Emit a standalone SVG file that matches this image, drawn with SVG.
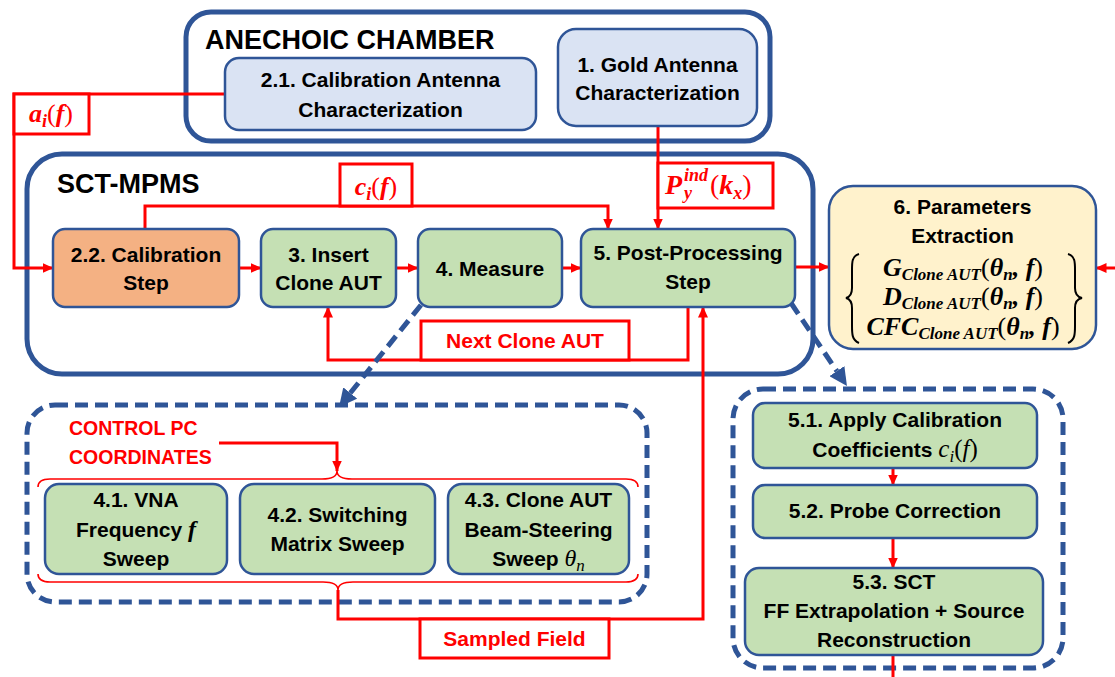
<svg xmlns="http://www.w3.org/2000/svg" width="1115" height="677" viewBox="0 0 1115 677">
  <defs>
    <style>
      .box{fill:none;stroke:#2f5597;stroke-width:5}
      .dash{fill:none;stroke:#2f5597;stroke-width:5;stroke-dasharray:13 7}
      .node{stroke:#2f5597;stroke-width:2.5}
      .blue{fill:#dae3f3}
      .green{fill:#c5e0b4}
      .orange{fill:#f4b183}
      .yellow{fill:#fff2cc}
      .t{font-family:"Liberation Sans",Arial,sans-serif;font-weight:bold;font-size:21px;fill:#000;text-anchor:middle}
      .title{font-size:27px;text-anchor:start}
      .red{fill:#ff0000}
      .m{font-family:"Liberation Serif","Times New Roman",serif;font-style:italic;font-weight:bold}
      .up{font-style:normal;font-weight:normal}
      .wire{fill:none;stroke:#ff0000;stroke-width:3}
      .lbl{fill:#fff;stroke:#ff0000;stroke-width:3}
      .brace{fill:none;stroke:#ff0000;stroke-width:1.6}
      .bigbrace{fill:none;stroke:#000;stroke-width:2}
      .flow{fill:none;stroke:#2f5597;stroke-width:5;stroke-dasharray:13 7}
    </style>
    <marker id="ah" viewBox="0 0 11 10" refX="10.5" refY="5" markerWidth="11" markerHeight="10" markerUnits="userSpaceOnUse" orient="auto">
      <path d="M0,0 L11,5 L0,10 z" fill="#ff0000"/>
    </marker>
    <marker id="bh" viewBox="0 0 18 18" refX="0" refY="9" markerWidth="18" markerHeight="18" markerUnits="userSpaceOnUse" orient="auto">
      <path d="M0,0 L18,9 L0,18 z" fill="#2f5597"/>
    </marker>
  </defs>

  <rect width="1115" height="677" fill="#fff"/>

  <!-- containers -->
  <g id="anechoic-chamber">
    <rect class="box" x="186" y="12" width="584" height="129" rx="25"/>
    <text class="t title" x="205" y="49">ANECHOIC CHAMBER</text>
  </g>
  <g id="sct-mpms">
    <rect class="box" x="27" y="154" width="786" height="220" rx="35"/>
    <text class="t title" x="57" y="193">SCT-MPMS</text>
  </g>
  <g id="measure-detail">
    <rect class="dash" x="27" y="405" width="620" height="197" rx="28"/>
    <text class="t red" style="text-anchor:start;font-size:19.5px" x="69" y="435">CONTROL PC</text>
    <text class="t red" style="text-anchor:start;font-size:19.5px" x="69" y="464">COORDINATES</text>
    <path class="brace" d="M38,487 C38,482 42,479 50,479 L322,479 C332,479 337,476 337,471 C337,476 342,479 352,479 L626,479 C634,479 638,482 638,487"/>
    <path class="brace" d="M38,574 C38,579 42,582 50,582 L323,582 C333,582 338,585 338,590 C338,585 343,582 353,582 L626,582 C634,582 638,579 638,574"/>
  </g>
  <g id="postprocessing-detail">
    <rect class="dash" x="733" y="389" width="330" height="279" rx="30"/>
  </g>

  <!-- connectors -->
  <g id="connectors">
    <path class="wire" d="M225,94 H14 V268 H53" marker-end="url(#ah)"/>
    <path class="wire" d="M145,229 V206 H608 V229" marker-end="url(#ah)"/>
    <path class="wire" d="M658,126 V229" marker-end="url(#ah)"/>
    <path class="wire" d="M239,268 H261" marker-end="url(#ah)"/>
    <path class="wire" d="M396,268 H418" marker-end="url(#ah)"/>
    <path class="wire" d="M562,268 H581" marker-end="url(#ah)"/>
    <path class="wire" d="M795,267 H829" marker-end="url(#ah)"/>
    <path class="wire" d="M1115,268 H1096" marker-end="url(#ah)"/>
    <path class="wire" d="M688,307 V360 H328 V307" marker-end="url(#ah)"/>
    <path class="wire" d="M338,590 V619 H703 V307" marker-end="url(#ah)"/>
    <path class="wire" d="M219,443 H337 V471" marker-end="url(#ah)"/>
    <path class="wire" d="M893,468 V485" marker-end="url(#ah)"/>
    <path class="wire" d="M893,538 V568" marker-end="url(#ah)"/>
    <path class="wire" d="M893,655 V677"/>

    <rect class="lbl" x="14" y="94" width="75" height="40"/>
    <text class="m red" x="51" y="122" text-anchor="middle" font-size="26">a<tspan font-size="18" dy="5">i</tspan><tspan class="up" dy="-5">(</tspan>f<tspan class="up">)</tspan></text>

    <rect class="lbl" x="340" y="164" width="72" height="42"/>
    <text class="m red" x="376" y="195" text-anchor="middle" font-size="26">c<tspan font-size="18" dy="5">i</tspan><tspan class="up" dy="-5">(</tspan>f<tspan class="up">)</tspan></text>

    <rect class="lbl" x="658" y="163" width="115" height="45"/>
    <text class="m red" font-size="28"><tspan x="665" y="194">P</tspan><tspan x="684" y="181" font-size="18">ind</tspan><tspan x="684" y="199" font-size="18">y</tspan><tspan class="up" x="710" y="194">(</tspan>k<tspan font-size="18" dy="5">x</tspan><tspan class="up" dy="-5">)</tspan></text>

    <rect class="lbl" x="421" y="321" width="208" height="39"/>
    <text class="t red" x="525" y="348">Next Clone AUT</text>

    <rect class="lbl" x="420" y="619" width="189" height="39"/>
    <text class="t red" x="514.5" y="646">Sampled Field</text>

    <path class="flow" d="M421,305 L350.3,393" marker-end="url(#bh)"/>
    <path class="flow" d="M791,303 L836.9,371.1" marker-end="url(#bh)"/>
  </g>

  <!-- nodes -->
  <g id="n21">
    <rect class="node blue" x="225" y="58" width="311" height="72" rx="14"/>
    <text class="t" x="380.5" y="87">2.1. Calibration Antenna</text>
    <text class="t" x="380.5" y="117">Characterization</text>
  </g>
  <g id="n1">
    <rect class="node blue" x="558" y="29" width="199" height="97" rx="18"/>
    <text class="t" x="657.5" y="72">1. Gold Antenna</text>
    <text class="t" x="657.5" y="100">Characterization</text>
  </g>
  <g id="n22">
    <rect class="node orange" x="53" y="229" width="186" height="78" rx="12"/>
    <text class="t" x="146" y="262">2.2. Calibration</text>
    <text class="t" x="146" y="290">Step</text>
  </g>
  <g id="n3">
    <rect class="node green" x="261" y="229" width="135" height="78" rx="12"/>
    <text class="t" x="328.5" y="262">3. Insert</text>
    <text class="t" x="328.5" y="290">Clone AUT</text>
  </g>
  <g id="n4">
    <rect class="node green" x="418" y="229" width="144" height="78" rx="12"/>
    <text class="t" x="490" y="276">4. Measure</text>
  </g>
  <g id="n5">
    <rect class="node green" x="581" y="229" width="214" height="78" rx="12"/>
    <text class="t" x="688" y="260">5. Post-Processing</text>
    <text class="t" x="688" y="289">Step</text>
  </g>
  <g id="n6">
    <rect class="node yellow" x="829" y="186" width="267" height="163" rx="24"/>
    <text class="t" x="962.5" y="214">6. Parameters</text>
    <text class="t" x="962.5" y="243">Extraction</text>
    <path class="bigbrace" d="M859,254 C852,256 852,262 852,270 L852,288 C852,294 850,297 846,298 C850,299 852,302 852,308 L852,326 C852,334 852,340 859,343"/>
    <path class="bigbrace" d="M1068,254 C1075,256 1075,262 1075,270 L1075,288 C1075,294 1077,297 1082,298 C1077,299 1075,302 1075,308 L1075,326 C1075,334 1075,340 1068,343"/>
    <text class="m" x="963" y="276" text-anchor="middle" font-size="26">G<tspan font-size="17" dy="4">Clone AUT</tspan><tspan class="up" dy="-4">(</tspan>θ<tspan font-size="17" dy="4">n</tspan><tspan dy="-4">, </tspan>f<tspan class="up">)</tspan></text>
    <text class="m" x="963" y="305" text-anchor="middle" font-size="26">D<tspan font-size="17" dy="4">Clone AUT</tspan><tspan class="up" dy="-4">(</tspan>θ<tspan font-size="17" dy="4">n</tspan><tspan dy="-4">, </tspan>f<tspan class="up">)</tspan></text>
    <text class="m" x="963" y="335" text-anchor="middle" font-size="26">CFC<tspan font-size="17" dy="4">Clone AUT</tspan><tspan class="up" dy="-4">(</tspan>θ<tspan font-size="17" dy="4">n</tspan><tspan dy="-4">, </tspan>f<tspan class="up">)</tspan></text>
  </g>
  <g id="n41">
    <rect class="node green" x="45" y="484" width="182" height="90" rx="14"/>
    <text class="t" x="136" y="507">4.1. VNA</text>
    <text class="t" x="136" y="537">Frequency <tspan class="m" font-size="24">f</tspan></text>
    <text class="t" x="136" y="566">Sweep</text>
  </g>
  <g id="n42">
    <rect class="node green" x="240" y="484" width="195" height="90" rx="14"/>
    <text class="t" x="337.5" y="522">4.2. Switching</text>
    <text class="t" x="337.5" y="551">Matrix Sweep</text>
  </g>
  <g id="n43">
    <rect class="node green" x="448" y="484" width="181" height="90" rx="14"/>
    <text class="t" x="538.5" y="507">4.3. Clone AUT</text>
    <text class="t" x="538.5" y="537">Beam-Steering</text>
    <text class="t" x="538.5" y="566">Sweep <tspan class="m" style="font-weight:normal" font-size="24">θ</tspan><tspan class="m" style="font-weight:normal" font-size="17" dy="5">n</tspan></text>
  </g>
  <g id="n51">
    <rect class="node green" x="753" y="403" width="284" height="65" rx="12"/>
    <text class="t" x="895" y="427">5.1. Apply Calibration</text>
    <text class="t" x="895" y="457">Coefficients <tspan class="m" style="font-weight:normal" font-size="25">c</tspan><tspan class="m" style="font-weight:normal" font-size="17" dy="5">i</tspan><tspan class="m up" font-size="25" dy="-5">(</tspan><tspan class="m" style="font-weight:normal" font-size="25">f</tspan><tspan class="m up" font-size="25">)</tspan></text>
  </g>
  <g id="n52">
    <rect class="node green" x="753" y="485" width="284" height="53" rx="12"/>
    <text class="t" x="895" y="518">5.2. Probe Correction</text>
  </g>
  <g id="n53">
    <rect class="node green" x="745" y="568" width="298" height="87" rx="14"/>
    <text class="t" x="894" y="589">5.3. SCT</text>
    <text class="t" x="894" y="618">FF Extrapolation + Source</text>
    <text class="t" x="894" y="647">Reconstruction</text>
  </g>
</svg>
